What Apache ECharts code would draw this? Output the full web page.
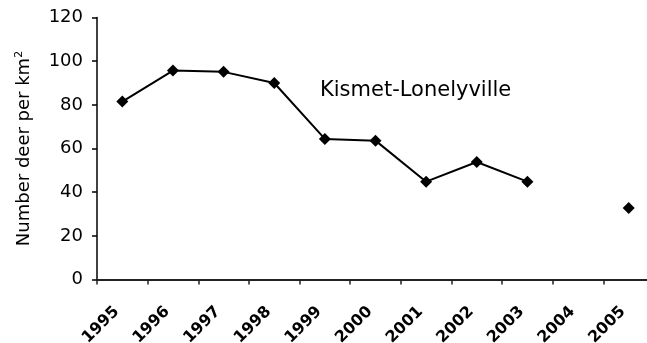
<!DOCTYPE html>
<html>
<head>
<meta charset="utf-8">
<script src="https://cdn.jsdelivr.net/npm/echarts@6/dist/echarts.min.js"></script>
<style>
html,body{margin:0;padding:0;background:#fff;}
#chart{width:647px;height:343px;}
</style>
</head>
<body>
<div id="chart"></div>
<script>
var years = ['1995','1996','1997','1998','1999','2000','2001','2002','2003','2004','2005'];
var deer = [81.5, 95.7, 95.1, 90, 64.4, 63.6, 44.8, 53.8, 44.8, null, 32.8];
var yTicks = [0, 20, 40, 60, 80, 100, 120];
var yTitle = 'Number deer per km';
var ySup = '2';
var siteLabel = 'Kismet-Lonelyville';

var chart = echarts.init(document.getElementById('chart'));
var font = 'DejaVu Sans, Verdana, sans-serif';
chart.setOption({
  animation: false,
  backgroundColor: '#fff',
  grid: {left: 97, top: 17.5, width: 557, height: 262, outerBoundsMode: 'none', containLabel: false},
  xAxis: {
    type: 'category',
    data: years,
    boundaryGap: true,
    axisLine: {lineStyle: {color: '#222', width: 2}},
    axisTick: {show: true, length: 5, lineStyle: {color: '#222', width: 1.5}},
    axisLabel: {
      rotate: 45, margin: 24, interval: 0, padding: [0, 8, 0, 0],
      fontFamily: font, fontSize: 16, fontWeight: 'bold', color: '#000'
    },
    splitLine: {show: false}
  },
  yAxis: {
    type: 'value',
    min: yTicks[0], max: yTicks[yTicks.length - 1], interval: 20,
    name: '{main|' + yTitle + '}{sup|' + ySup + '}',
    nameLocation: 'middle',
    nameGap: 62,
    nameRotate: 90,
    nameTextStyle: {
      rich: {
        main: {fontFamily: font, fontSize: 18, color: '#000'},
        sup: {fontFamily: font, fontSize: 11, color: '#000', verticalAlign: 'top', padding: [0, 0, 10, 0]}
      }
    },
    axisLine: {show: true, lineStyle: {color: '#000', width: 1.5}},
    axisTick: {show: true, length: 5, lineStyle: {color: '#000', width: 1.5}},
    axisLabel: {fontFamily: font, fontSize: 18, color: '#000', margin: 14},
    splitLine: {show: false}
  },
  graphic: [{
    type: 'text',
    left: 320,
    top: 80,
    style: {text: siteLabel, font: '21px DejaVu Sans', fill: '#000'}
  }],
  series: [{
    type: 'line',
    data: deer,
    connectNulls: false,
    symbol: 'diamond',
    symbolSize: 12,
    showAllSymbol: true,
    lineStyle: {color: '#000', width: 2},
    itemStyle: {color: '#000'}
  }]
});
</script>
</body>
</html>
